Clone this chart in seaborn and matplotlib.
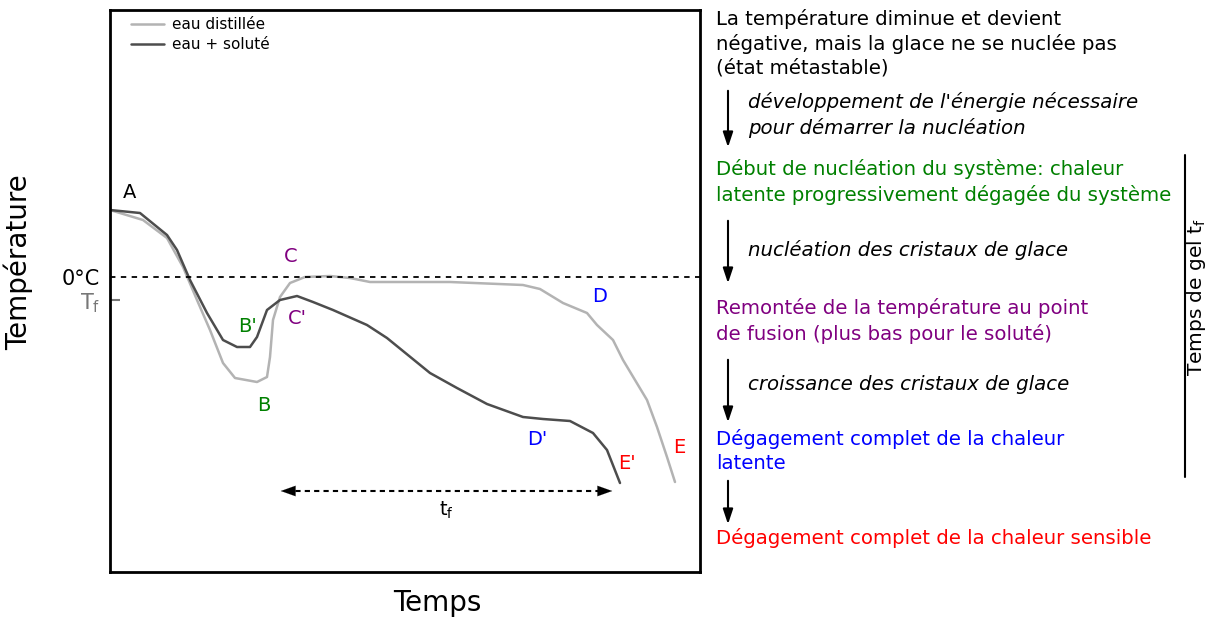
import pandas as pd
import matplotlib.pyplot as plt
import seaborn as sns
import numpy as np

# Courbes de congélation (unités arbitraires : temps, température ; 0 = 0°C)
temps_distillee = [0, 33, 57, 73, 87, 100, 113, 125, 147, 157, 160, 163, 170, 180, 195,
                   220, 240, 260, 340, 413, 430, 453, 477, 487, 503, 513, 537, 547, 557, 565]
temp_distillee = [67, 57, 39, 10, -23, -53, -86, -101, -105, -100, -80, -43, -20, -6, 0,
                  1, -1, -5, -5, -8, -12, -26, -36, -48, -63, -83, -123, -150, -180, -205]

temps_solute = [0, 30, 57, 67, 80, 97, 113, 127, 140, 147, 157, 170, 187, 203, 223,
                257, 277, 320, 347, 377, 413, 433, 460, 483, 497, 510]
temp_solute = [67, 64, 42, 27, -3, -36, -63, -70, -70, -60, -33, -23, -19, -25, -33,
               -48, -61, -96, -111, -127, -140, -142, -144, -156, -173, -206]

T_fusion = -23
tf_debut, tf_fin = 168, 505

# étiquettes des points (texte, temps, température, couleur)
points_labels = ['A', "B'", 'B', 'C', "C'", 'D', "D'", "E'", 'E']
points_t = [20, 138, 154, 181, 187, 490, 427, 517, 569]
points_T = [85, -49, -128, 21, -41, -19, -162, -186, -170]
points_couleurs = ['black', 'green', 'green', 'purple', 'purple', 'blue', 'blue', 'red', 'red']

df = pd.concat([
    pd.DataFrame({'Temps': temps_distillee, 'Température': temp_distillee, 'série': 'eau distillée'}),
    pd.DataFrame({'Temps': temps_solute, 'Température': temp_solute, 'série': 'eau + soluté'}),
])

sns.set_style('white')
plt.rcParams['font.family'] = ['DejaVu Sans']
plt.rcParams['text.color'] = 'black'
plt.rcParams['axes.labelcolor'] = 'black'
plt.rcParams['ytick.color'] = 'black'

W, H = 1213, 622
fig = plt.figure(figsize=(W / 100, H / 100), dpi=100)
ax = fig.add_axes([110 / W, 1 - 572 / H, 590 / W, 562 / H])

sns.lineplot(data=df, x='Temps', y='Température', hue='série', sort=False, estimator=None,
             palette={'eau distillée': '#b3b3b3', 'eau + soluté': '#4d4d4d'},
             linewidth=1.8, ax=ax)

ax.set_xlim(0, 590)
ax.set_ylim(-295, 267)

# ligne 0°C
ax.axhline(0, color='black', linestyle=(0, (3, 3)), linewidth=1.3)

# axes
for s in ax.spines.values():
    s.set_color('black')
    s.set_linewidth(2)
ax.set_xticks([])
ax.set_yticks([0, T_fusion])
ax.set_yticklabels(['0°C', r'T$_\mathrm{f}$'], fontsize=15)
ax.get_yticklabels()[0].set_color('black')
ax.get_yticklabels()[1].set_color('#777777')
ax.tick_params(axis='y', direction='in', length=7, width=1.5, color='#777777', left=True, pad=7)
ax.yaxis.get_major_ticks()[0].tick1line.set_visible(False)
ax.set_xlabel('Temps', fontsize=20)
ax.set_ylabel('Température', fontsize=20)
ax.xaxis.set_label_coords(0.554, -0.03)
ax.yaxis.set_label_coords(-0.13, 0.552)

leg = ax.legend(loc='upper left', bbox_to_anchor=(0.012, 1.012), frameon=False, fontsize=11,
                handlelength=2.2, handletextpad=0.5, labelspacing=0.35)

for lab, t, T, c in zip(points_labels, points_t, points_T, points_couleurs):
    ax.text(t, T, lab, color=c, fontsize=14, ha='center', va='center')

# temps de gel t_f
ax.plot([tf_debut + 8, tf_fin - 8], [-214, -214], color='black', linestyle=(0, (2.5, 2)), linewidth=1.5)
for x0, x1 in [(tf_debut + 14, tf_debut), (tf_fin - 14, tf_fin)]:
    ax.annotate('', xy=(x1, -214), xytext=(x0, -214),
                arrowprops=dict(arrowstyle='-|>,head_length=0.7,head_width=0.25', color='black',
                                lw=0.1, mutation_scale=15))
ax.text((tf_debut + tf_fin) / 2, -233, r't$_\mathrm{f}$', fontsize=14, ha='center', va='center')


def fx(px):
    return px / W


def fy(py):
    return 1 - py / H


# panneau explicatif à droite
fs = 14.2
fig.text(fx(716), fy(9), "La température diminue et devient\nnégative, mais la glace ne se nuclée pas\n(état métastable)",
         fontsize=fs, va='top', linespacing=1.32)
fig.text(fx(748), fy(115), "développement de l'énergie nécessaire\npour démarrer la nucléation",
         fontsize=fs, style='italic', va='center', linespacing=1.32)
fig.text(fx(716), fy(182), "Début de nucléation du système: chaleur\nlatente progressivement dégagée du système",
         fontsize=fs, color='green', va='center', linespacing=1.32)
fig.text(fx(748), fy(250), "nucléation des cristaux de glace",
         fontsize=fs, style='italic', va='center')
fig.text(fx(716), fy(321), "Remontée de la température au point\nde fusion (plus bas pour le soluté)",
         fontsize=fs, color='purple', va='center', linespacing=1.32)
fig.text(fx(748), fy(384), "croissance des cristaux de glace",
         fontsize=fs, style='italic', va='center')
fig.text(fx(716), fy(451), "Dégagement complet de la chaleur\nlatente",
         fontsize=fs, color='blue', va='center', linespacing=1.32)
fig.text(fx(716), fy(538), "Dégagement complet de la chaleur sensible",
         fontsize=fs, color='red', va='center')

for y0, y1 in [(88, 150), (218, 286), (357, 425), (478, 527)]:
    ax.annotate('', xy=(fx(728), fy(y1)), xytext=(fx(728), fy(y0)),
                xycoords='figure fraction', textcoords='figure fraction', annotation_clip=False,
                arrowprops=dict(arrowstyle='-|>,head_length=0.9,head_width=0.3', color='black', lw=1.5))

fig.add_artist(plt.Line2D([fx(1185), fx(1185)], [fy(155), fy(477)], color='black', lw=1.5))
fig.text(fx(1197), fy(297), r'Temps de gel t$_\mathrm{f}$', fontsize=14.5, rotation=90,
         ha='center', va='center')

plt.savefig('out.png', dpi=100)
plt.close()
